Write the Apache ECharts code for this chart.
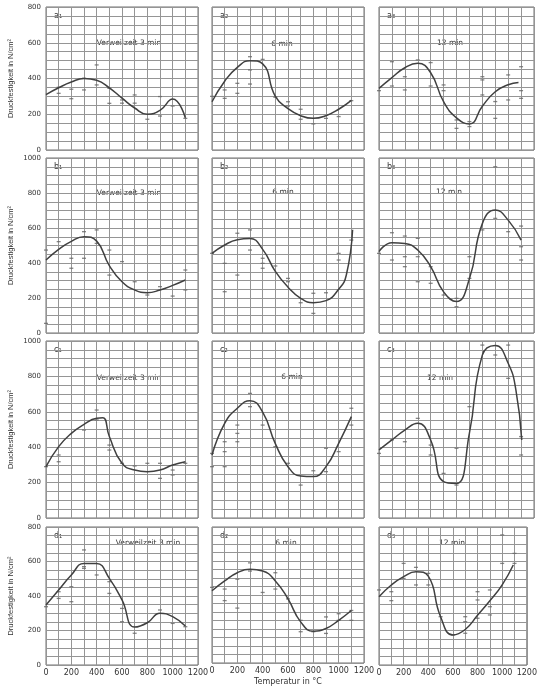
<!DOCTYPE html>
<html><head><meta charset="utf-8">
<script src="https://cdn.jsdelivr.net/npm/echarts@6.0.0/dist/echarts.min.js"></script>
<style>html,body{margin:0;padding:0;background:#fff}#c{width:540px;height:687px}</style>
</head><body><div id="c"></div><script>
// ---- data ----
const panelNames = [['a₁','a₂','a₃'],['b₁','b₂','b₃'],['c₁','c₂','c₃'],['d₁','d₂','d₃']];
const dwellTimes = ['Verweilzeit 3 min','6 min','12 min'];
const yMax = [800, 1000, 1000, 800];
const yTicks800 = [0,200,400,600,800];
const yTicks1000 = [0,200,400,600,800,1000];
const xTicks = [0,200,400,600,800,1000,1200];
const yTitle = 'Druckfestigkeit in N/cm²';
const xTitle = 'Temperatur in °C';

const curveA1 = [[0,310],[100,348],[200,380],[300,400],[400,390],[500,348],[600,290],[700,235],[800,200],[900,222],[1000,285],[1100,180]];
const pointsA1 = [[100,351],[100,317],[200,340],[200,287],[300,336],[300,401],[400,364],[400,476],[500,345],[500,261],[600,280],[600,262],[700,308],[700,262],[800,172],[900,299],[900,190],[1000,246],[1100,177]];
const curveA2 = [[0,270],[100,385],[200,462],[300,500],[400,482],[500,300],[600,232],[700,192],[800,177],[900,192],[1000,228],[1100,278]];
const pointsA2 = [[0,300],[100,336],[100,289],[200,373],[200,317],[300,448],[300,369],[300,522],[400,507],[500,295],[600,270],[600,246],[700,228],[700,172],[800,146],[900,177],[1000,187],[1100,276]];
const curveA3 = [[0,345],[100,405],[200,460],[300,485],[400,432],[500,270],[600,180],[700,146],[800,245],[900,326],[1000,365],[1080,378]];
const pointsA3 = [[0,332],[100,494],[100,358],[200,410],[200,336],[300,504],[400,489],[400,358],[500,364],[500,332],[600,168],[600,121],[700,159],[700,131],[800,410],[800,392],[800,308],[900,271],[900,177],[1000,420],[1000,280],[1100,466],[1100,332],[1100,289]];

const curveB1 = [[0,417],[100,478],[200,524],[300,550],[400,525],[500,385],[600,293],[700,246],[800,230],[900,246],[1000,272],[1100,303]];
const pointsB1 = [[0,474],[0,55],[100,522],[200,427],[200,370],[300,579],[300,427],[400,589],[400,512],[500,474],[500,331],[600,408],[700,293],[800,217],[900,265],[1000,211],[1100,360],[1100,246]];
const curveB2 = [[0,455],[100,503],[200,533],[300,540],[400,478],[500,352],[600,262],[700,198],[800,173],[900,185],[1000,250],[1060,330],[1110,590]];
const pointsB2 = [[0,455],[100,398],[100,236],[200,570],[200,331],[300,589],[300,474],[400,427],[400,398],[400,370],[500,383],[600,312],[600,293],[700,173],[800,227],[800,112],[900,230],[1000,455],[1000,417],[1100,531]];
const curveB3 = [[0,465],[100,516],[200,512],[300,474],[400,379],[500,235],[600,180],[700,310],[800,625],[900,703],[1000,645],[1100,531]];
const pointsB3 = [[0,455],[100,573],[100,417],[200,554],[200,436],[200,379],[300,541],[300,436],[300,293],[400,379],[400,284],[500,217],[600,198],[600,150],[700,436],[700,312],[800,589],[900,950],[900,655],[1000,579],[1100,611],[1100,493],[1100,417]];

const curveC1 = [[0,290],[100,403],[200,478],[300,529],[400,563],[450,566],[500,460],[600,309],[700,271],[800,262],[900,271],[1000,299],[1100,318]];
const pointsC1 = [[0,290],[100,356],[100,318],[300,497],[400,610],[400,554],[500,412],[500,384],[600,309],[700,294],[800,309],[900,309],[900,224],[1000,271],[1000,243],[1100,309]];
const curveC2 = [[0,356],[100,535],[200,620],[300,663],[400,598],[500,420],[600,290],[700,237],[800,234],[900,290],[1000,422],[1100,573]];
const pointsC2 = [[0,365],[0,290],[100,431],[100,375],[100,290],[200,525],[200,478],[200,431],[300,704],[300,629],[400,525],[500,403],[600,309],[700,186],[800,267],[900,394],[900,262],[1000,375],[1100,620],[1100,525]];
const curveC3 = [[0,385],[100,441],[200,497],[300,535],[400,441],[500,205],[600,195],[700,480],[800,920],[900,975],[1000,874],[1060,723],[1105,441]];
const pointsC3 = [[0,365],[100,441],[200,431],[300,563],[400,412],[400,356],[500,252],[600,394],[600,186],[700,629],[800,977],[900,921],[1000,977],[1000,789],[1100,460],[1100,356]];

const curveD1 = [[0,348],[100,435],[200,522],[300,589],[400,588],[500,502],[600,377],[700,220],[800,245],[900,300],[1000,280],[1100,226]];
const pointsD1 = [[0,338],[100,425],[100,386],[200,454],[200,367],[300,570],[300,667],[300,560],[400,522],[500,483],[500,415],[600,328],[600,251],[700,184],[900,319],[1000,241],[1100,222]];
const curveD2 = [[0,425],[100,483],[200,531],[300,551],[400,541],[500,483],[600,377],[700,242],[800,187],[900,203],[1000,251],[1100,309]];
const pointsD2 = [[0,445],[100,435],[100,367],[200,493],[200,323],[300,589],[300,541],[400,415],[500,531],[500,435],[600,377],[700,251],[700,184],[800,184],[900,271],[900,174],[1000,290],[1000,251],[1100,309],[1100,251]];
const curveD3 = [[0,396],[100,464],[200,512],[300,541],[400,515],[500,280],[600,174],[700,206],[800,288],[900,372],[1000,465],[1090,580]];
const pointsD3 = [[0,435],[100,425],[100,373],[200,589],[200,502],[300,566],[300,464],[400,531],[400,464],[500,280],[600,174],[700,280],[700,251],[700,184],[800,425],[800,377],[800,271],[900,435],[900,338],[900,290],[1000,754],[1000,589],[1100,647],[1100,589]];

const curves = [[curveA1,curveA2,curveA3],[curveB1,curveB2,curveB3],[curveC1,curveC2,curveC3],[curveD1,curveD2,curveD3]];
const points = [[pointsA1,pointsA2,pointsA3],[pointsB1,pointsB2,pointsB3],[pointsC1,pointsC2,pointsC3],[pointsD1,pointsD2,pointsD3]];

// ---- layout ----
const colL = [46, 212, 379], colW = [152, 152, 155];
const rowT = [7, 158, 341, 527], rowH = [143, 175, 177, 138];
const dwellPos = [
  [[129,43],[282,44],[450,43]],
  [[129,193],[283,192],[449,192]],
  [[129,378],[292,377],[440,378]],
  [[148,543],[286,543],[452,543]]
];
const FONT = 'DejaVu Sans';
const gridC = '#959595', textC = '#333333';

const grid = [], xAxis = [], yAxis = [], series = [], graphic = [];
for (let r = 0; r < 4; r++) {
  for (let c = 0; c < 3; c++) {
    const i = r * 3 + c;
    const yt = yMax[r] === 800 ? yTicks800 : yTicks1000;
    grid.push({left: colL[c], top: rowT[r], width: colW[c], height: rowH[r], show: true,
      borderColor: '#707070', borderWidth: 1, backgroundColor: 'transparent'});
    xAxis.push({type: 'value', gridIndex: i, min: 0, max: 1200, interval: 100,
      axisLine: {show: false}, axisTick: {show: false},
      splitLine: {show: true, lineStyle: {color: gridC, width: 1}},
      axisLabel: {show: r === 3, formatter: v => xTicks.includes(v) ? String(v) : '',
        fontSize: 8, color: textC, margin: 4, fontFamily: FONT, showMinLabel: true, showMaxLabel: true},
      name: (r === 3 && c === 1) ? xTitle : '', nameLocation: 'middle', nameGap: 15,
      nameTextStyle: {fontSize: 8, color: textC, fontFamily: FONT}});
    yAxis.push({type: 'value', gridIndex: i, min: 0, max: yMax[r], interval: 50,
      axisLine: {show: false}, axisTick: {show: false},
      splitLine: {show: true, lineStyle: {color: gridC, width: 1}},
      axisLabel: {show: c === 0, formatter: v => yt.includes(v) ? String(v) : '',
        fontSize: 7, color: textC, margin: 5, fontFamily: FONT},
      name: c === 0 ? yTitle : '', nameLocation: 'middle', nameGap: 31,
      nameTextStyle: {fontSize: 7.5, color: textC, fontFamily: 'Liberation Sans'}});
    series.push({type: 'line', xAxisIndex: i, yAxisIndex: i, data: curves[r][c],
      smooth: 0.5, showSymbol: false, silent: true,
      lineStyle: {color: '#404040', width: 1.5}});
    series.push({type: 'scatter', xAxisIndex: i, yAxisIndex: i, data: points[r][c],
      symbol: 'rect', symbolSize: [4, 1.3], silent: true, itemStyle: {color: '#666666'}});
    graphic.push({type: 'text', left: colL[c] + 8, top: rowT[r] + 5,
      style: {text: panelNames[r][c], fontSize: 8, fill: textC, fontFamily: FONT}});
    const p = dwellPos[r][c];
    graphic.push({type: 'text', x: p[0], y: p[1],
      style: {text: dwellTimes[c], fontSize: 7.5, fill: textC, fontFamily: FONT,
        align: 'center', verticalAlign: 'middle'}});
  }
}

const chart = echarts.init(document.getElementById('c'), null, {renderer: 'canvas'});
chart.setOption({animation: false, backgroundColor: '#ffffff', grid, xAxis, yAxis, series, graphic});
</script></body></html>
